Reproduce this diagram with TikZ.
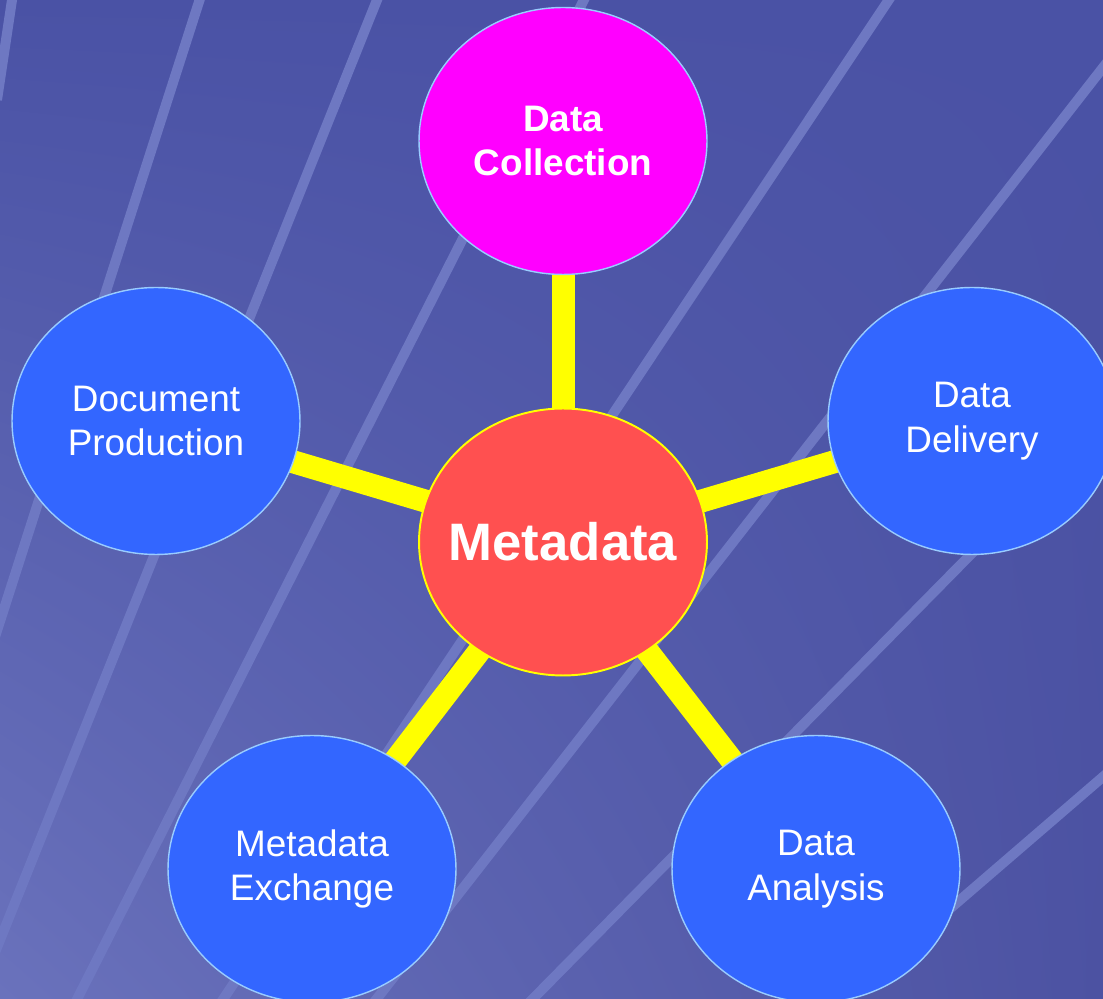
\documentclass[tikz,border=0pt]{standalone}
\usepackage{fontspec}
\setmainfont{Liberation Sans}
\usetikzlibrary{shapes.geometric, shadings}
\pgfdeclarelayer{bg}
\pgfdeclarelayer{links}
\pgfsetlayers{bg,links,main}
\definecolor{bgtop}{RGB}{74,82,165}
\definecolor{bgright}{RGB}{76,82,162}
\definecolor{bglow}{RGB}{106,114,188}
\definecolor{stripe}{RGB}{110,120,194}
\definecolor{topicblue}{RGB}{51,102,255}
\definecolor{rim}{RGB}{153,204,255}
\definecolor{hubred}{RGB}{255,80,80}
\definecolor{hotpink}{RGB}{255,0,255}
\definecolor{linkyellow}{RGB}{255,255,0}
\tikzset{
  topic/.style={ellipse, draw=rim, line width=0.8pt, fill=topicblue, text=white,
    minimum width=5.76cm, minimum height=5.34cm, inner sep=0pt, align=center,
    font=\fontsize{21}{25.5}\selectfont},
  hub/.style={topic, draw=linkyellow, line width=1.1pt, fill=hubred, inner xsep=-1cm,
    font=\fontsize{30}{36}\selectfont\bfseries},
  link/.style={draw=linkyellow, line width=0.46cm},
  streak/.style={draw=stripe, line width=0.2cm}
}

\begin{document}
\begin{tikzpicture}[x=0.02cm, y=-0.02cm]
	\useasboundingbox (0,0) rectangle (1103,999);
	% background with light streaks
	\begin{pgfonlayer}{bg}
		\shade[upper left=bgtop, upper right=bgtop, lower right=bgright, lower left=bglow]
			(0,0) rectangle (1103,999);
		\begin{scope}
			\clip (0,0) rectangle (1103,999);
			\foreach \xa/\ya/\xb/\yb in {15/-20/-3/100, 206/-20/-6/640, 385/-20/-8/960,
				594/-20/67/1019, 902/-20/210/1019, 1119/47/361/1019,
				1123/400/513/1019, 1126/757/822/1019}
				\path[streak] (\xa,\ya) -- (\xb,\yb);
		\end{scope}
	\end{pgfonlayer}

	\node[hub] (md) at (563,542) {Metadata};
	\node[topic, fill=hotpink, font=\fontsize{21}{25.5}\selectfont\bfseries] (dc) at (563,141) {Data\\Collection};
	\node[topic] (dp) at (156,421) {Document\\Production};
	\node[topic] (dd) at (972,421) {Data\\Delivery};
	\node[topic] (me) at (312,869) {Metadata\\Exchange};
	\node[topic] (da) at (816,869) {Data\\Analysis};

	\begin{pgfonlayer}{links}
		\foreach \n in {dc, dp, dd, me, da}
			\path[link] (md.center) -- (\n.center);
	\end{pgfonlayer}
\end{tikzpicture}
\end{document}
